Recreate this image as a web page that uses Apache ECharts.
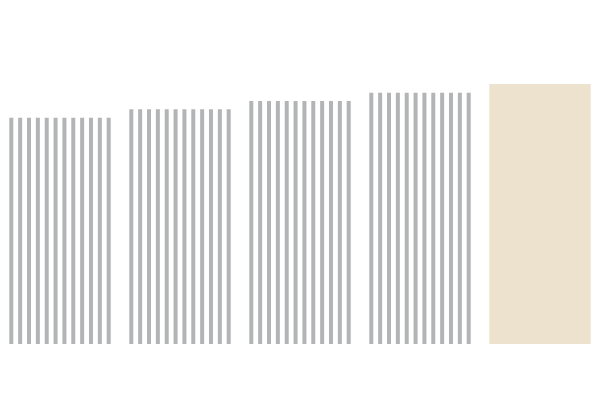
<!DOCTYPE html>
<html>
<head>
<meta charset="utf-8">
<style>
  html, body { margin: 0; padding: 0; background: #fff; }
  #main { width: 600px; height: 416px; }
</style>
<script src="https://cdn.jsdelivr.net/npm/echarts@6/dist/echarts.min.js"></script>
</head>
<body>
<div id="main"></div>
<script>
// categories and values
var categories = ['A', 'B', 'C', 'D', 'E'];
var values = [87, 90.3, 93.5, 96.6, 100];
// which bars are drawn as stripes (the last one is solid)
var striped = [true, true, true, true, false];

var myChart = echarts.init(document.getElementById('main'));

// bar drawn as a group of thin vertical stripes, or a solid block
function renderItem(params, api) {
	var i = api.value(0);
	var top = api.coord([i, api.value(1)]);
	var base = api.coord([i, 0]);
	var bw = api.size([1, 0])[0] * 0.845;
	var x0 = top[0] - bw / 2;
	var h = base[1] - top[1];
	if (!striped[i]) {
		return {
			type: 'rect',
			shape: { x: x0, y: top[1], width: bw, height: h },
			style: { fill: '#ede2cd' }
		};
	}
	var n = 12, sw = 4;
	var step = (bw - sw) / (n - 1);
	var children = [];
	for (var k = 0; k < n; k++) {
		children.push({
			type: 'rect',
			shape: { x: x0 + k * step, y: top[1], width: sw, height: h },
			style: { fill: '#b3b4b6' }
		});
	}
	return { type: 'group', children: children };
}

var option = {
	animation: false,
	grid: { left: 0, right: 0, top: 84, bottom: 72 },
	xAxis: {
		type: 'category',
		data: categories,
		show: false
	},
	yAxis: {
		type: 'value',
		min: 0,
		max: 100,
		show: false
	},
	series: [{
		type: 'custom',
		renderItem: renderItem,
		data: values.map(function (v, i) { return [i, v]; })
	}]
};

myChart.setOption(option);
</script>
</body>
</html>
